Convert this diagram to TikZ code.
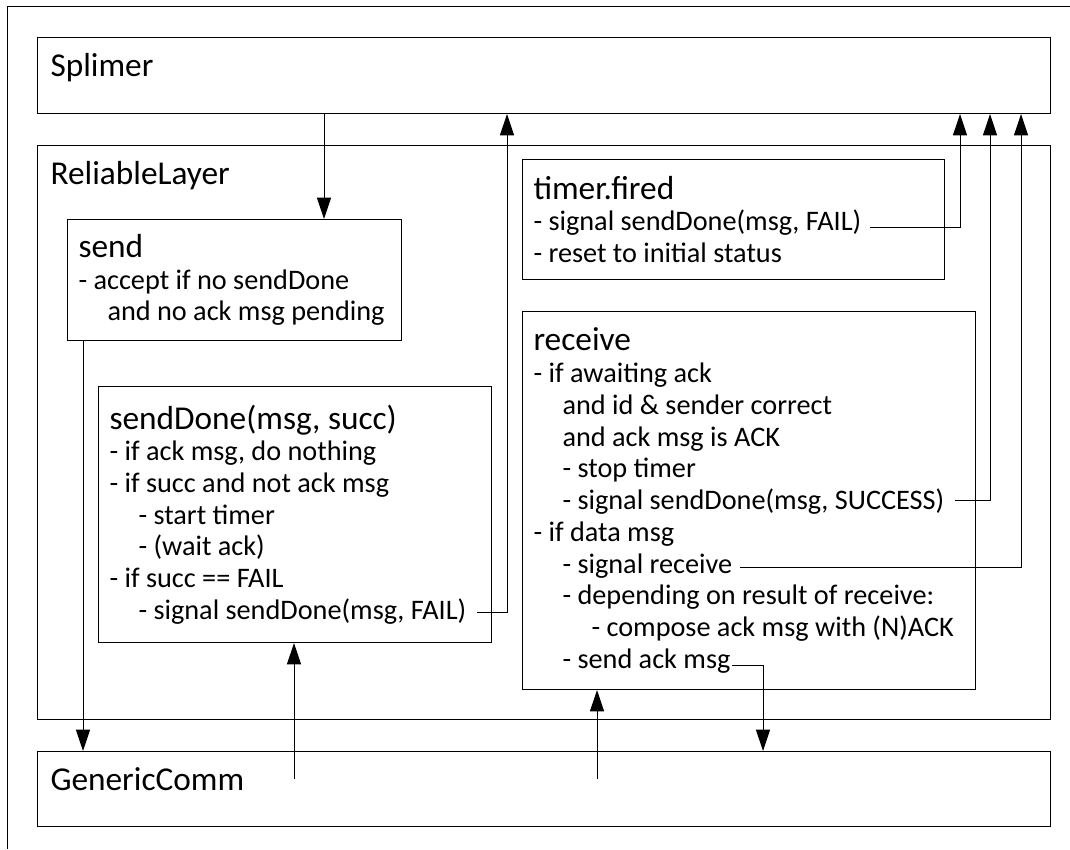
\documentclass[tikz,border=0pt]{standalone}
\usepackage{fontspec}
\setmainfont{Carlito}
\usetikzlibrary{arrows.meta,positioning,calc}
\newcommand{\titlefont}{\fontsize{25}{30}\selectfont}
\newcommand{\bodyfont}{\fontsize{21.2}{23.8}\selectfont}
\newcommand{\indnt}{\hspace*{21.75pt}}

\begin{document}
\begin{tikzpicture}[
  x=0.75pt, y=-0.75pt,
  line width=0.75pt,
  layer/.style={
    rectangle, draw, anchor=north west, minimum width=759.75pt,
    label={[anchor=base west, inner sep=0pt, font=\titlefont,
            xshift=9.75pt, yshift=-29.25pt]north west:#1}},
  handler/.style={
    rectangle, draw, anchor=north west, align=left,
    inner xsep=8.25pt, inner ysep=0pt, font=\bodyfont,
    execute at begin node={\spaceskip=0pt\xspaceskip=0pt\hyphenpenalty=10000}},
  arr/.style={-{Triangle[length=16pt, width=10.5pt]}},
]
  \useasboundingbox (0,0) rectangle (1070,849);

  % ── Page frame (only left and top edges show) ───────────────────────────
  \draw (7,849) -- (7,7) -- (1070,7);

  % ── Layers ──────────────────────────────────────────────────────────────
  \node[layer=Splimer, minimum height=57pt] (splimer) at (37,37) {};
  \node[layer=ReliableLayer, minimum height=430.5pt,
        below=23.25pt of splimer.south west, anchor=north west] (reliable) {};
  \node[layer=GenericComm, minimum height=56.25pt,
        below=23.25pt of reliable.south west, anchor=north west] (generic) {};

  % ── Event handlers inside ReliableLayer ─────────────────────────────────
  \node[handler, text width=234pt, minimum height=90.75pt] (send) at (67,219)
      {{\titlefont send}\\
       - accept if no sendDone\\
       \indnt and no ack msg pending};
  \node[handler, text width=278.25pt, minimum height=192pt] (senddone) at (98,386)
      {{\titlefont sendDone(msg, succ)}\\
       - if ack msg, do nothing\\
       - if succ and not ack msg\\
       \indnt - start timer\\
       \indnt - (wait ack)\\
       - if succ == FAIL\\
       \indnt - signal sendDone(msg, FAIL)};
  \node[handler, text width=300pt, minimum height=90pt] (timer) at (522,159)
      {{\titlefont timer.fired}\\
       - signal sendDone(msg, FAIL)\\
       - reset to initial status};
  \node[handler, text width=323.25pt, minimum height=283.5pt,
        below=23.25pt of timer.south west, anchor=north west] (receive)
      {{\titlefont receive}\\
       - if awaiting ack\\
       \indnt and id \& sender correct\\
       \indnt and ack msg is ACK\\
       \indnt - stop timer\\
       \indnt - signal sendDone(msg, SUCCESS)\\
       - if data msg\\
       \indnt - signal receive\\
       \indnt - depending on result of receive:\\
       \indnt\indnt - compose ack msg with (N)ACK\\
       \indnt - send ack msg};

  % ── Lanes and line starts ───────────────────────────────────────────────
  \coordinate (down1) at (324,0);
  \coordinate (down2) at (83,0);
  \coordinate (lanefail) at (507,0);
  \coordinate (lanetimer) at (960,0);
  \coordinate (lanesucc) at (990,0);
  \coordinate (lanerecv) at (1021,0);
  \coordinate (laneack) at (763,0);
  % ends of the text lines that signal upward / send downward
  \coordinate (dfail) at (477,612);
  \coordinate (tfail) at (870,227);
  \coordinate (rsucc) at (955,500);
  \coordinate (rrecv) at (740,567);
  \coordinate (rack)  at (732,665);
  % events coming up from GenericComm
  \coordinate (upsd) at (294,779);
  \coordinate (uprc) at (597,779);

  % ── Downward calls ──────────────────────────────────────────────────────
  \draw[arr] (splimer.south -| down1) -- (send.north -| down1);
  \draw[arr] (send.south -| down2) -- (generic.north -| down2);
  \draw[arr] (rack) -| (generic.north -| laneack);

  % ── Signals up to Splimer ───────────────────────────────────────────────
  \draw[arr] (dfail) -| (splimer.south -| lanefail);
  \draw[arr] (tfail) -| (splimer.south -| lanetimer);
  \draw[arr] (rsucc) -| (splimer.south -| lanesucc);
  \draw[arr] (rrecv) -| (splimer.south -| lanerecv);

  % ── Events from GenericComm ─────────────────────────────────────────────
  \draw[arr] (upsd) -- (upsd |- senddone.south);
  \draw[arr] (uprc) -- (uprc |- receive.south);

\end{tikzpicture}
\end{document}
